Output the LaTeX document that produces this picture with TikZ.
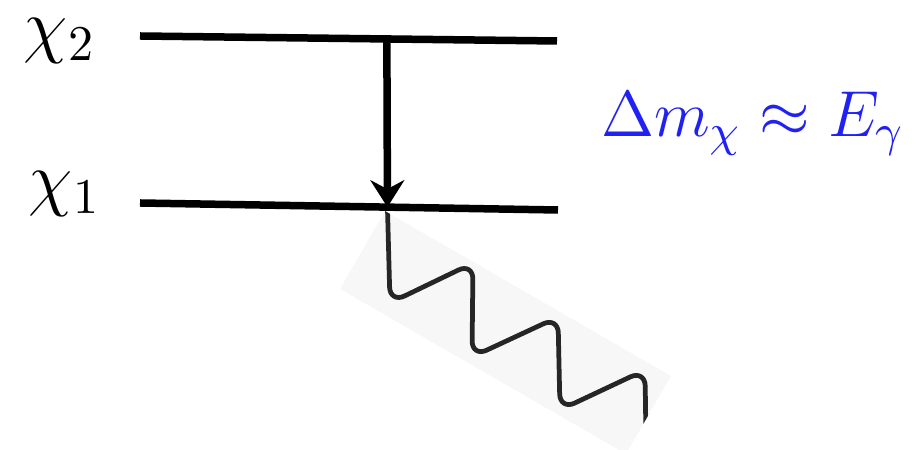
\RequirePackage{fix-cm}
\documentclass[tikz,border=0pt]{standalone}
\usetikzlibrary{arrows.meta,calc}
\definecolor{gapblue}{rgb}{0.13,0.13,0.95}

\begin{document}
\begin{tikzpicture}[x=0.2pt, y=-0.2pt,
    level/.style={line width=1.5pt},
    arrow/.style={line width=1.5pt, -{Stealth[length=5.4pt, width=6.8pt, inset=1.8pt]}},
    photon/.style={line width=0.95pt, black!85, rounded corners=3.2pt},
    lbl/.style={anchor=base west, inner sep=0pt, font=\fontsize{14.4}{17}\selectfont},
  ]
  \useasboundingbox (0,0) rectangle (922,450);

  % levels
  \coordinate (up-l) at (140,36);
  \coordinate (up-r) at (557,41);
  \coordinate (lo-l) at (140,203);
  \coordinate (lo-r) at (558,210);
  \draw[level] (up-l) -- (up-r);
  \draw[level] (lo-l) -- (lo-r);

  \node[lbl] (chi2) at (23,50) {$\chi_2$};
  \node[lbl] (chi1) at (28,203) {$\chi_1$};
  \node[lbl, text=gapblue, font=\fontsize{13}{15}\selectfont] (gap) at (600,137)
    {$\Delta m_\chi \approx E_\gamma$};

  % decay
  \coordinate (top) at ($(up-l)!0.592!(up-r)$);
  \coordinate (tip) at ($(lo-l)!0.592!(lo-r)$);
  \draw[arrow] (top) -- (tip);

  % photon
  \coordinate (ph-a) at (385,211);
  \coordinate (ph-b) at (671,376);
  \coordinate (ph-c) at (626,454);
  \coordinate (ph-d) at (340,289);
  \fill[black!3] (ph-a) -- (ph-b) -- (ph-c) -- (ph-d) -- cycle;
  \begin{scope}
    \clip (ph-a) -- (ph-b) -- (ph-c) -- (ph-d) -- cycle;
    \draw[photon] (tip) -- (390,303) -- (473,263) -- (472,357) -- (558,317)
      -- (560,410) -- (645,370) -- (646,440);
  \end{scope}
\end{tikzpicture}
\end{document}
